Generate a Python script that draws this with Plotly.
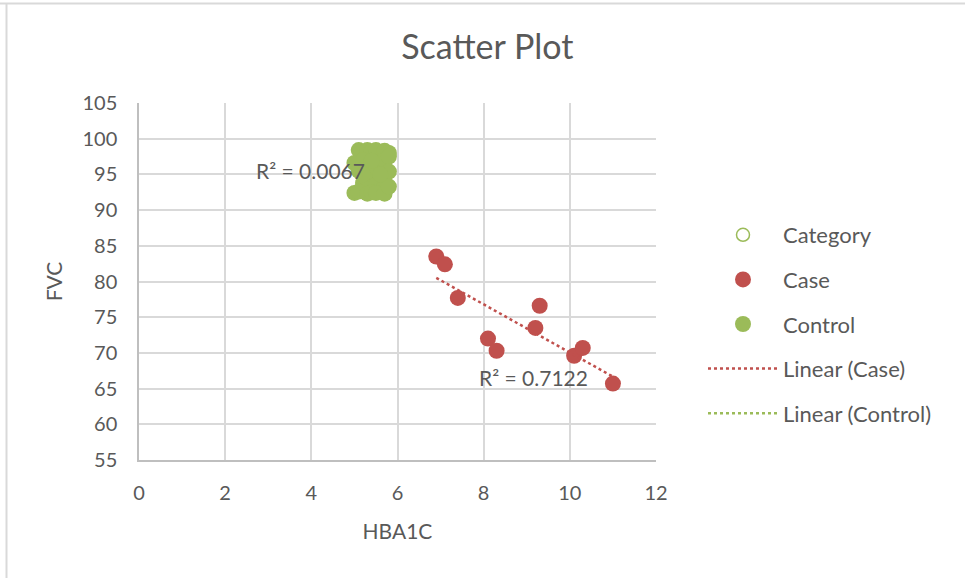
import numpy as np
import plotly.graph_objects as go

# ---- data ----
case_hba1c = [6.9, 7.1, 7.4, 8.1, 8.3, 9.2, 9.3, 10.1, 10.3, 11.0]
case_fvc = [83.5, 82.4, 77.7, 72.0, 70.3, 73.5, 76.6, 69.6, 70.7, 65.7]

control_hba1c = [5.1, 5.3, 5.4, 5.5, 5.7, 5.8, 5.0, 5.2, 5.6, 5.8, 5.1, 5.4,
                 5.8, 5.3, 5.6, 5.2, 5.5, 5.7, 5.0, 5.1, 5.3, 5.4, 5.5, 5.7,
                 5.8, 5.6, 5.4, 5.2]
control_fvc = [98.4, 98.4, 98.2, 98.4, 98.3, 98.0, 96.6, 97.0, 96.8, 97.5, 95.5, 95.8,
               95.4, 94.2, 94.6, 93.8, 93.5, 93.3, 92.4, 92.6, 92.3, 92.5, 92.4, 92.3,
               93.3, 95.0, 96.9, 95.0]

x_ticks = [0, 2, 4, 6, 8, 10, 12]
y_ticks = [55, 60, 65, 70, 75, 80, 85, 90, 95, 100, 105]
r2_case_label = "R² = 0.7122"
r2_control_label = "R² = 0.0067"

RED = "#c0504d"
GREEN = "#9bbb59"
TXT = "#595959"
GRID = "#d9d9d9"
FONT = "Lato"


def trend(xs, ys):
    m, b = np.polyfit(xs, ys, 1)
    x0, x1 = min(xs), max(xs)
    return [x0, x1], [m * x0 + b, m * x1 + b]


fig = go.Figure()

fig.add_trace(go.Scatter(x=[None], y=[None], mode="markers", name="Category",
                         legendgroup="a",
                         marker=dict(symbol="circle-open", color=GREEN, size=13,
                                     line=dict(width=1.5, color=GREEN))))

cx, cy = trend(control_hba1c, control_fvc)
fig.add_trace(go.Scatter(x=cx, y=cy, mode="lines", showlegend=False,
                         line=dict(color=GREEN, width=2.5, dash="dot")))

fig.add_trace(go.Scatter(x=case_hba1c, y=case_fvc, mode="markers", name="Case",
                         legendgroup="b",
                         marker=dict(color=RED, size=16)))
fig.add_trace(go.Scatter(x=control_hba1c, y=control_fvc, mode="markers", name="Control",
                         legendgroup="c",
                         marker=dict(color=GREEN, size=16)))

kx, ky = trend(case_hba1c, case_fvc)
fig.add_trace(go.Scatter(x=kx, y=ky, mode="lines", name="Linear (Case)",
                         legendgroup="d",
                         line=dict(color=RED, width=2.5, dash="dot")))
fig.add_trace(go.Scatter(x=[None], y=[None], mode="lines", name="Linear (Control)",
                         legendgroup="e",
                         line=dict(color=GREEN, width=2.5, dash="dot")))

fig.add_annotation(x=9.16, y=66.5, text=r2_case_label, showarrow=False,
                   font=dict(family=FONT, size=21, color=TXT))
fig.add_annotation(x=3.98, y=95.6, text=r2_control_label, showarrow=False,
                   font=dict(family=FONT, size=21, color=TXT))

# chart-area border (top and left edges visible)
fig.add_shape(type="line", xref="paper", yref="paper", x0=-139/517, x1=826/517,
              y0=1 + 99.5/357, y1=1 + 99.5/357, line=dict(color=GRID, width=2))
fig.add_shape(type="line", xref="paper", yref="paper", x0=-132.5/517, x1=-132.5/517,
              y0=1 + 100/357, y1=-118/357, line=dict(color=GRID, width=2))

fig.update_layout(
    width=965, height=578,
    margin=dict(l=139, r=309, t=103, b=118),
    paper_bgcolor="white", plot_bgcolor="white",
    font=dict(family=FONT, color=TXT, size=20),
    title=dict(text="Scatter Plot", x=0.505, xanchor="center", y=0.918, yanchor="middle",
               font=dict(family=FONT, size=34, color=TXT)),
    xaxis=dict(range=[0, 12], tickvals=x_ticks, showgrid=True, gridcolor=GRID, gridwidth=1.5,
               showline=True, linecolor="#bfbfbf", linewidth=1.5, zeroline=False,
               ticks="", ticklabelstandoff=14, tickfont=dict(size=20, color=TXT),
               title=dict(text="HBA1C", font=dict(size=21, color=TXT), standoff=22)),
    yaxis=dict(range=[55, 105], tickvals=y_ticks, showgrid=True, gridcolor=GRID, gridwidth=1.5,
               showline=True, linecolor="#bfbfbf", linewidth=1.5, zeroline=False,
               ticks="", ticklabelstandoff=16, tickfont=dict(size=20, color=TXT),
               title=dict(text="FVC", font=dict(size=21, color=TXT), standoff=14)),
    legend=dict(xref="container", yref="container", x=703/965, y=1 - 214/578,
                xanchor="left", yanchor="top", font=dict(size=22, color=TXT),
                tracegroupgap=13, bgcolor="rgba(0,0,0,0)", itemwidth=70),
    showlegend=True,
)

fig.write_html("out.html", config={"displayModeBar": False},
               post_script="document.body.style.margin='0';")
